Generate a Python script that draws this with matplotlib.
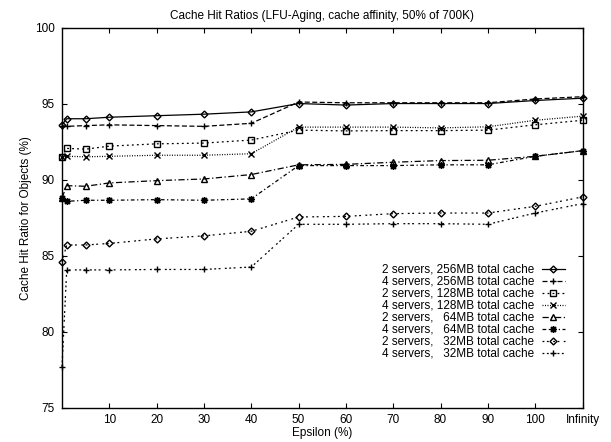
import numpy as np
from matplotlib import pyplot as plt

plt.rcParams['font.family'] = ['Liberation Sans', 'DejaVu Sans']
plt.rcParams['font.size'] = 8.5

# epsilon values; 110 stands for "Infinity"
eps = [0, 1, 5, 10, 20, 30, 40, 50, 60, 70, 80, 90, 100, 110]
xtick_pos = [10, 20, 30, 40, 50, 60, 70, 80, 90, 100, 110]
xtick_labels = ['10', '20', '30', '40', '50', '60', '70', '80', '90', '100', 'Infinity']

s2_256 = [93.6, 94.0, 94.0, 94.1, 94.2, 94.3, 94.45, 95.0, 94.9, 95.0, 95.0, 95.0, 95.2, 95.35]
s4_256 = [93.55, 93.5, 93.55, 93.6, 93.55, 93.5, 93.7, 95.1, 95.05, 95.05, 95.05, 95.05, 95.3, 95.45]
s2_128 = [91.5, 92.05, 92.0, 92.2, 92.35, 92.4, 92.6, 93.25, 93.2, 93.22, 93.22, 93.25, 93.6, 93.9]
s4_128 = [91.5, 91.53, 91.5, 91.53, 91.6, 91.6, 91.7, 93.45, 93.45, 93.45, 93.4, 93.47, 93.9, 94.17]
s2_64 = [88.8, 89.6, 89.56, 89.78, 89.93, 90.04, 90.33, 90.97, 91.0, 91.14, 91.25, 91.27, 91.53, 91.9]
s4_64 = [88.8, 88.57, 88.64, 88.64, 88.68, 88.64, 88.73, 90.92, 90.92, 90.92, 90.97, 90.97, 91.53, 91.9]
s2_32 = [84.6, 85.7, 85.7, 85.8, 86.1, 86.3, 86.6, 87.54, 87.58, 87.76, 87.8, 87.8, 88.24, 88.86]
s4_32 = [77.7, 84.06, 84.06, 84.06, 84.09, 84.09, 84.25, 87.06, 87.06, 87.1, 87.1, 87.06, 87.8, 88.42]

labels = ['2 servers, 256MB total cache',
          '4 servers, 256MB total cache',
          '2 servers, 128MB total cache',
          '4 servers, 128MB total cache',
          '2 servers,   64MB total cache',
          '4 servers,   64MB total cache',
          '2 servers,   32MB total cache',
          '4 servers,   32MB total cache']
series = [s2_256, s4_256, s2_128, s4_128, s2_64, s4_64, s2_32, s4_32]

# gnuplot-like mono line types
styles = [
    dict(marker='D', ms=3.5, dashes=None),
    dict(marker='+', ms=5, dashes=(4, 2)),
    dict(marker='s', ms=4, dashes=(1.5, 2.5)),
    dict(marker='x', ms=4, dashes=(0.8, 1.2)),
    dict(marker='^', ms=4.5, dashes=(5, 2, 1, 2)),
    dict(marker=(8, 2, 0), ms=5, dashes=(3, 2, 1, 2)),
    dict(marker='D', ms=3.5, dashes=(1.5, 2, 1.5, 3.5)),
    dict(marker='+', ms=5, dashes=(1.5, 2, 1.5, 2, 1.5, 3.5)),
]

fig = plt.figure(figsize=(6.11, 4.42), dpi=100)
fig.subplots_adjust(left=62/611, right=582.5/611, top=1-27.5/442, bottom=1-407.7/442)
ax = fig.add_subplot(111)

for vals, lab, st in zip(series, labels, styles):
    line, = ax.plot(eps, vals, color='black', lw=0.9, marker=st['marker'],
                    ms=st['ms'], mfc='none', mec='black', mew=1.0, label=lab,
                    clip_on=False, zorder=3)
    if st['dashes'] is not None:
        line.set_dashes(st['dashes'])

ax.set_xlim(0, 110)
ax.set_ylim(75, 100)
ax.set_xticks(xtick_pos)
ax.set_xticklabels(xtick_labels)
ax.set_yticks([75, 80, 85, 90, 95, 100])
ax.tick_params(direction='in', top=True, right=True, length=3.5, width=0.8)
ax.tick_params(axis='x', pad=4.5)
ax.tick_params(axis='y', pad=5)
for sp in ax.spines.values():
    sp.set_linewidth(1.0)

ax.set_title('Cache Hit Ratios (LFU-Aging, cache affinity, 50% of 700K)', fontsize=8.5, pad=6)
ax.set_xlabel('Epsilon (%)', labelpad=1)
ax.set_ylabel('Cache Hit Ratio for Objects (%)', labelpad=2)

ax.legend(loc='upper left', bbox_to_anchor=(0.614, 0.378), frameon=False,
          markerfirst=False, borderpad=0, borderaxespad=0, labelspacing=0.0,
          handlelength=1.9, handletextpad=0.7, fontsize=8.5)

fig.savefig('out.png', dpi=100)
